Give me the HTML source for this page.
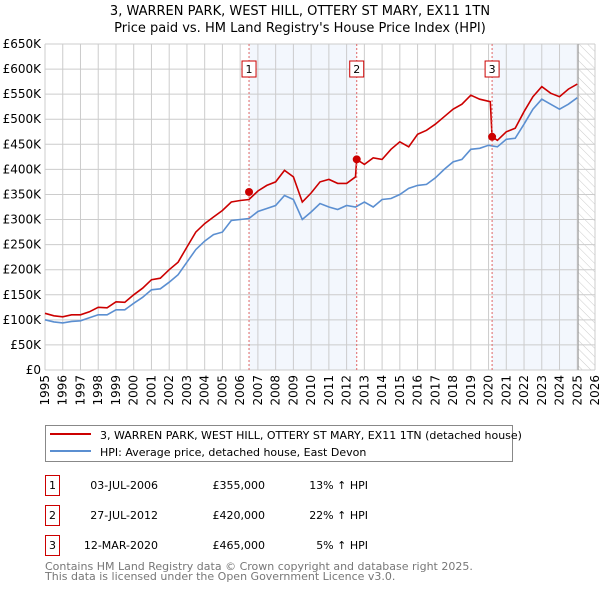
<!DOCTYPE html>
<html><head><meta charset="utf-8"><style>
body{margin:0;width:600px;height:590px;background:#fff;font-family:"DejaVu Sans","Liberation Sans",sans-serif;overflow:hidden}
svg text{font-family:"DejaVu Sans","Liberation Sans",sans-serif}
</style></head><body>
<svg id="chart" width="600" height="590" viewBox="0 0 600 590" xmlns="http://www.w3.org/2000/svg">
<defs><pattern id="hatch" width="6" height="6" patternUnits="userSpaceOnUse" patternTransform="rotate(-45)"><line x1="0" y1="0" x2="0" y2="6" stroke="#ccc" stroke-width="1"/></pattern></defs>
<text x="300" y="15" font-size="13" text-anchor="middle">3, WARREN PARK, WEST HILL, OTTERY ST MARY, EX11 1TN</text>
<text x="300" y="32" font-size="13" text-anchor="middle">Price paid vs. HM Land Registry's House Price Index (HPI)</text>
<g id="bg"></g><g id="grid"></g><g id="axes"></g><g id="series"></g><g id="marks"></g>
<rect x="45.5" y="425.5" width="467" height="36" fill="#fff" stroke="#888"/>
<line x1="50" y1="434" x2="91" y2="434" stroke="#cc0000" stroke-width="2"/>
<text x="100" y="439" font-size="11">3, WARREN PARK, WEST HILL, OTTERY ST MARY, EX11 1TN (detached house)</text>
<line x1="50" y1="451" x2="91" y2="451" stroke="#5b8fd1" stroke-width="2"/>
<text x="100" y="456" font-size="11">HPI: Average price, detached house, East Devon</text>
<g id="table"></g>
<text x="45" y="570" font-size="11" fill="#777">Contains HM Land Registry data © Crown copyright and database right 2025.</text>
<text x="45" y="580" font-size="11" fill="#777">This data is licensed under the Open Government Licence v3.0.</text>
</svg>
<script>
const hpiYears=[1995,1995.5,1996,1996.5,1997,1997.5,1998,1998.5,1999,1999.5,2000,2000.5,2001,2001.5,2002,2002.5,2003,2003.5,2004,2004.5,2005,2005.5,2006,2006.5,2007,2007.5,2008,2008.5,2009,2009.5,2010,2010.5,2011,2011.5,2012,2012.5,2013,2013.5,2014,2014.5,2015,2015.5,2016,2016.5,2017,2017.5,2018,2018.5,2019,2019.5,2020,2020.5,2021,2021.5,2022,2022.5,2023,2023.5,2024,2024.5,2025];
const hpiValues=[100,96,94,97,98,104,110,110,120,120,133,145,160,162,175,190,215,240,257,270,275,298,300,302,316,322,328,348,340,300,315,332,325,320,328,325,335,325,340,342,350,362,368,370,383,400,415,420,440,442,448,445,460,462,490,520,540,530,520,530,543];
const propYears=[1995,1995.5,1996,1996.5,1997,1997.5,1998,1998.5,1999,1999.5,2000,2000.5,2001,2001.5,2002,2002.5,2003,2003.5,2004,2004.5,2005,2005.5,2006,2006.5,2007,2007.5,2008,2008.5,2009,2009.5,2010,2010.5,2011,2011.5,2012,2012.5,2012.57,2013,2013.5,2014,2014.5,2015,2015.5,2016,2016.5,2017,2017.5,2018,2018.5,2019,2019.5,2020.1,2020.2,2020.5,2021,2021.5,2022,2022.5,2023,2023.5,2024,2024.5,2025];
const propValues=[113,108,106,110,110,116,125,124,136,135,150,163,180,183,200,215,245,275,292,305,318,335,338,340,357,368,375,398,385,335,353,375,380,372,372,385,420,410,423,420,440,455,445,470,478,490,505,520,530,548,540,535,465,458,475,482,515,545,565,552,545,560,570];
const sales=[{n:"1",year:2006.5,value:355,date:"03-JUL-2006",price:"£355,000",pct:"13% ↑ HPI"},{n:"2",year:2012.57,value:420,date:"27-JUL-2012",price:"£420,000",pct:"22% ↑ HPI"},{n:"3",year:2020.2,value:465,date:"12-MAR-2020",price:"£465,000",pct:"5% ↑ HPI"}];
const yTicks=[0,50,100,150,200,250,300,350,400,450,500,550,600,650];
const xTicks=[1995,1996,1997,1998,1999,2000,2001,2002,2003,2004,2005,2006,2007,2008,2009,2010,2011,2012,2013,2014,2015,2016,2017,2018,2019,2020,2021,2022,2023,2024,2025,2026];
const dataEnd=2025.05;
const NS="http://www.w3.org/2000/svg";
const X0=45,X1=595,Y0=370,Y1=44;
const xs=y=>X0+(y-1995)/(2026-1995)*(X1-X0);
const ys=v=>Y0-v/650*(Y0-Y1);
function mk(p,t,a){const e=document.createElementNS(NS,t);for(const k in a)e.setAttribute(k,a[k]);document.getElementById(p).appendChild(e);return e;}
let e;
e=mk("bg","rect",{x:xs(sales[0].year),y:Y1,width:xs(sales[1].year)-xs(sales[0].year),height:Y0-Y1,fill:"#eef3fc",opacity:0.7});


e=mk("bg","rect",{x:xs(sales[2].year),y:Y1,width:xs(dataEnd)-xs(sales[2].year),height:Y0-Y1,fill:"#eef3fc",opacity:0.7});


e=mk("bg","rect",{x:xs(dataEnd),y:Y1,width:X1-xs(dataEnd),height:Y0-Y1,fill:"url(#hatch)"});


yTicks.forEach(v=>{
 e=mk("grid","line",{x1:X0,x2:X1,y1:ys(v),y2:ys(v),stroke:"#ccc"});
 
 
 e=mk("axes","text",{x:X0-4,y:ys(v)+4,"font-size":12,"text-anchor":"end"});e.textContent="£"+(v?v+"K":"0");
 
 
});
xTicks.forEach(y=>{
 e=mk("grid","line",{x1:xs(y),x2:xs(y),y1:Y1,y2:Y0,stroke:"#ccc"});
 
 
 e=mk("axes","text",{x:0,y:0,"font-size":12,"text-anchor":"end",transform:`translate(${xs(y)+4},${Y0+5}) rotate(-90)`});e.textContent=y;
 
 
});
e=mk("grid","line",{x1:xs(dataEnd),x2:xs(dataEnd),y1:Y1,y2:Y0,stroke:"#999"});


function path(xsA,vs){return xsA.map((y,i)=>(i?"L":"M")+xs(y).toFixed(1)+","+ys(vs[i]).toFixed(1)).join("");}
e=mk("series","path",{d:path(hpiYears,hpiValues),fill:"none",stroke:"#5b8fd1","stroke-width":1.6});


e=mk("series","path",{d:path(propYears,propValues),fill:"none",stroke:"#cc0000","stroke-width":1.6});


sales.forEach((s,i)=>{
 e=mk("marks","line",{x1:xs(s.year),x2:xs(s.year),y1:Y1,y2:Y0,stroke:"#e06666","stroke-dasharray":"2,2"});
 
 
 e=mk("marks","rect",{x:xs(s.year)-7,y:61,width:14,height:16,fill:"#fff",stroke:"#cc0000"});
 
 
 e=mk("marks","text",{x:xs(s.year),y:73,"font-size":11,"text-anchor":"middle"});e.textContent=s.n;
 
 
 e=mk("marks","circle",{cx:xs(s.year),cy:ys(s.value),r:4,fill:"#cc0000"});
 
 
 const ty=475+i*30;
 e=mk("table","rect",{x:45.5,y:ty+0.5,width:14,height:20,fill:"#fff",stroke:"#cc0000"});
 
 
 e=mk("table","text",{x:52.5,y:ty+14,"font-size":11,"text-anchor":"middle"});e.textContent=s.n;
 
 
 e=mk("table","text",{x:158,y:ty+14,"font-size":11,"text-anchor":"end"});e.textContent=s.date;
 
 
 e=mk("table","text",{x:265,y:ty+14,"font-size":11,"text-anchor":"end"});e.textContent=s.price;
 
 
 e=mk("table","text",{x:368,y:ty+14,"font-size":11,"text-anchor":"end"});e.textContent=s.pct;
 
 
});
</script>
</body></html>
